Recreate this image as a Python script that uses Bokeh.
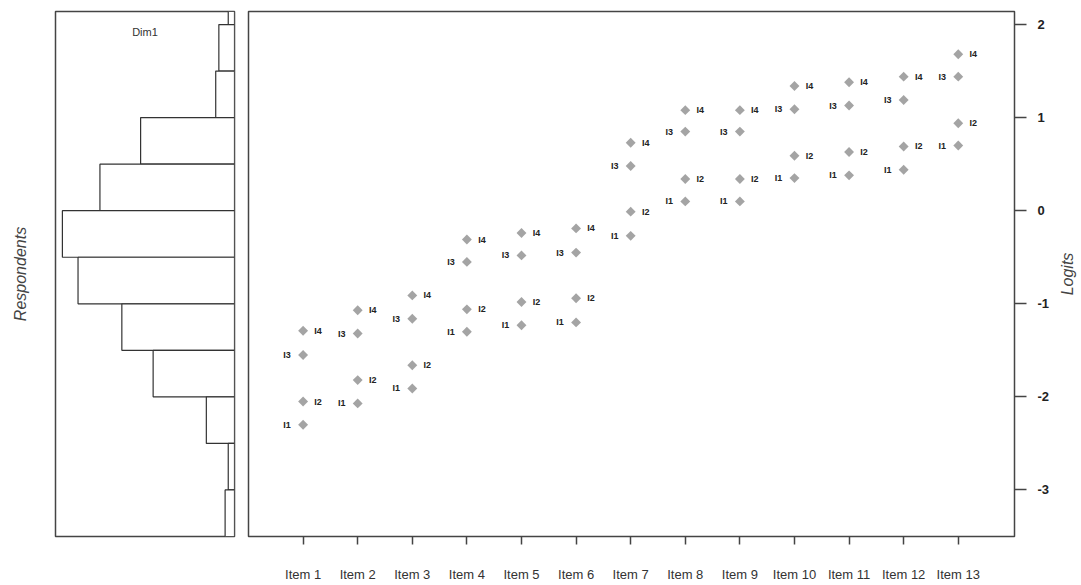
import math
from bokeh.plotting import figure
from bokeh.layouts import row
from bokeh.models import Range1d, LinearAxis, FixedTicker, ColumnDataSource
from bokeh.core.properties import value
from bokeh.embed import file_html
from bokeh.resources import INLINE

# ---------------- data ----------------
items = ["Item 1", "Item 2", "Item 3", "Item 4", "Item 5", "Item 6", "Item 7",
         "Item 8", "Item 9", "Item 10", "Item 11", "Item 12", "Item 13"]
thr1 = [-2.30, -2.07, -1.91, -1.30, -1.23, -1.20, -0.27, 0.10, 0.10, 0.35, 0.38, 0.44, 0.70]
thr2 = [-2.05, -1.82, -1.66, -1.06, -0.98, -0.94, -0.01, 0.34, 0.34, 0.59, 0.63, 0.69, 0.94]
thr3 = [-1.55, -1.32, -1.16, -0.55, -0.48, -0.45, 0.48, 0.85, 0.85, 1.09, 1.13, 1.19, 1.44]
thr4 = [-1.29, -1.07, -0.91, -0.31, -0.24, -0.19, 0.73, 1.08, 1.08, 1.34, 1.38, 1.44, 1.68]
thr_labels = ["I1", "I2", "I3", "I4"]

# respondent histogram (bins of 0.5 logit, from top)
bin_lower = [2.0, 1.5, 1.0, 0.5, 0.0, -0.5, -1.0, -1.5, -2.0, -2.5, -3.0, -3.5]
bin_counts = [2, 5, 6, 30, 43, 55, 50, 36, 26, 9, 2, 3]
bin_width = 0.5

y_ticks = [-3, -2, -1, 0, 1, 2]

FONT = value("Liberation Sans")
Y0, Y1 = -3.5, 2.14
yr = Range1d(Y0, Y1)
HX = 57.2
H = 584


def label_axis(text, standoff):
    return LinearAxis(ticker=FixedTicker(ticks=[]), axis_label=text,
                      axis_line_color=None, major_tick_line_color=None,
                      minor_tick_line_color=None, major_label_text_font_size="0px",
                      major_label_standoff=0, major_tick_out=0, major_tick_in=0,
                      axis_label_text_font_style="italic", axis_label_text_font_size="16px",
                      axis_label_text_color="#444444", axis_label_text_font="Liberation Sans",
                      axis_label_standoff=standoff)


# ---------------- histogram panel ----------------
hist = figure(width=240, height=H, x_range=Range1d(HX, 0), y_range=yr,
              x_axis_location=None, y_axis_location=None,
              toolbar_location=None, output_backend="svg",
              min_border_left=55, min_border_right=6,
              min_border_top=11, min_border_bottom=46)
hist.xgrid.visible = False
hist.ygrid.visible = False
hist.outline_line_color = "#444444"
hist.outline_line_width = 1.5

centers = [b + bin_width / 2 for b in bin_lower]
hist.hbar(y=centers, left=0, right=bin_counts, height=bin_width,
          fill_color="white", line_color="#333333", line_width=1.2)
hist.add_layout(label_axis("Respondents", 27), "left")

hist.text(x=[HX / 2], y=[Y1], text=["Dim1"], y_offset=20,
          text_align="center", text_baseline="middle", text_font_size="11px",
          text_font=FONT, text_color="#333333")

# ---------------- item map panel ----------------
p = figure(width=815, height=H, x_range=Range1d(0, 14.03), y_range=yr,
           y_axis_location="right", toolbar_location=None, output_backend="svg",
           min_border_left=8, min_border_right=41, min_border_top=11, min_border_bottom=46)
p.xgrid.visible = False
p.ygrid.visible = False
p.outline_line_color = "#444444"
p.outline_line_width = 1.5

xs, ys, labs, offs = [], [], [], []
for k, thr in enumerate([thr1, thr2, thr3, thr4]):
    for i, v in enumerate(thr):
        xs.append(i + 1)
        ys.append(v)
        labs.append(thr_labels[k])
        offs.append(15 if k % 2 == 1 else -16)
src = ColumnDataSource(dict(x=xs, y=ys, lab=labs, xoff=offs))

p.scatter(x="x", y="y", source=src, marker="square", angle=math.pi / 4, size=7,
          fill_color="#a4a4a4", line_color=None)
p.text(x="x", y="y", text="lab", x_offset="xoff", source=src, text_align="center",
       text_baseline="middle", text_font_size="9px", text_font_style="bold",
       text_font=FONT, text_color="#222222")

xa = p.xaxis[0]
xa.ticker = FixedTicker(ticks=list(range(1, len(items) + 1)))
xa.major_label_overrides = {i + 1: name for i, name in enumerate(items)}
xa.axis_line_color = None
xa.major_tick_out = 8
xa.major_tick_in = 0
xa.major_tick_line_color = "#444444"
xa.major_tick_line_width = 1.5
xa.minor_tick_line_color = None
xa.major_label_standoff = 22
xa.major_label_text_font_size = "13px"
xa.major_label_text_font = "Liberation Sans"
xa.major_label_text_color = "#333333"

ya = p.yaxis[0]
ya.ticker = FixedTicker(ticks=y_ticks)
ya.major_label_overrides = {t: str(t) for t in y_ticks}
ya.axis_line_color = None
ya.major_tick_out = 12
ya.major_tick_in = 0
ya.major_tick_line_color = "#444444"
ya.major_tick_line_width = 1.5
ya.minor_tick_line_color = None
ya.major_label_standoff = 11
ya.major_label_text_font_size = "13px"
ya.major_label_text_font_style = "bold"
ya.major_label_text_font = "Liberation Sans"
ya.major_label_text_color = "#222222"

# ---------------- right title strip ("Logits", read bottom to top) ----------------
side = figure(width=25, height=H, x_range=Range1d(0, 1), y_range=yr,
              x_axis_location=None, y_axis_location=None,
              toolbar_location=None, output_backend="svg",
              min_border_left=20, min_border_right=0,
              min_border_top=11, min_border_bottom=46)
side.xgrid.visible = False
side.ygrid.visible = False
side.outline_line_color = None
side.add_layout(label_axis("Logits", 1), "left")

layout = row(hist, p, side)
open("out.html", "w").write(file_html(layout, INLINE))
